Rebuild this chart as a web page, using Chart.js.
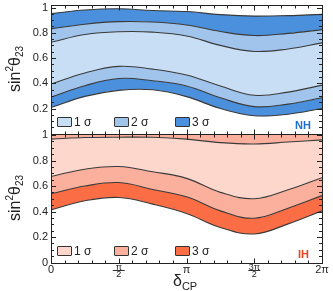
<!DOCTYPE html>
<html><head><meta charset="utf-8">
<script src="https://cdn.jsdelivr.net/npm/chart.js@4/dist/chart.umd.min.js"></script>
<style>
html,body{margin:0;padding:0;background:#fff;}
#wrap{position:relative;width:333px;height:291px;overflow:hidden;font-family:"Liberation Sans",Arial,sans-serif;color:#222;}
canvas{position:absolute;left:0;top:0;}
.ytitle{position:absolute;font-size:16px;white-space:nowrap;transform:translate(-50%,-50%) rotate(-90deg);line-height:1;}
.ytitle sup{font-size:10px;vertical-align:7px;}
.ytitle sub{font-size:10px;vertical-align:-3px;}
.xtitle{position:absolute;left:173px;top:273px;font-size:16px;white-space:nowrap;line-height:1;}
.xtitle sub{font-size:11px;vertical-align:-4px;}
.lg{position:absolute;font-size:12px;white-space:nowrap;line-height:10px;}
.lg .box{display:inline-block;width:13px;height:8px;border:1px solid #333;border-radius:1px;vertical-align:top;margin-right:2px;}
.tag{position:absolute;font-size:11px;font-weight:bold;line-height:1;}
</style></head>
<body>
<div id="wrap">
<canvas id="c" width="333" height="291"></canvas>
<div class="ytitle" style="left:15px;top:69px">sin<sup>2</sup>θ<sub>23</sub></div>
<div class="ytitle" style="left:15px;top:198px">sin<sup>2</sup>θ<sub>23</sub></div>
<div class="xtitle">δ<sub>CP</sub></div>
<div class="lg" style="left:57px;top:117px"><span class="box" style="background:#c8def4"></span>1 σ</div>
<div class="lg" style="left:114px;top:117px"><span class="box" style="background:#a0c4ec"></span>2 σ</div>
<div class="lg" style="left:175px;top:117px"><span class="box" style="background:#4a90dc"></span>3 σ</div>
<div class="tag" style="left:295px;top:120px;color:#1d6fd1">NH</div>
<div class="lg" style="left:57px;top:246px"><span class="box" style="background:#fdd6cc"></span>1 σ</div>
<div class="lg" style="left:114px;top:246px"><span class="box" style="background:#fbb09e"></span>2 σ</div>
<div class="lg" style="left:175px;top:246px"><span class="box" style="background:#fb6d45"></span>3 σ</div>
<div class="tag" style="left:298px;top:249px;color:#e8441c">IH</div>
</div>
<script>
// δCP in units of π
const deltaCP = [0, 0.25, 0.5, 0.75, 1, 1.25, 1.5, 1.75, 2];
// Normal hierarchy band boundaries (sin^2 θ23)
const nh3sUpper = [0.952, 0.980, 0.990, 0.976, 0.968, 0.944, 0.932, 0.936, 0.946];
const nh2sUpper = [0.831, 0.868, 0.888, 0.885, 0.862, 0.810, 0.778, 0.795, 0.825];
const nh1sUpper = [0.725, 0.786, 0.808, 0.805, 0.775, 0.700, 0.652, 0.672, 0.720];
const nh1sLower = [0.394, 0.482, 0.534, 0.512, 0.465, 0.378, 0.305, 0.330, 0.385];
const nh2sLower = [0.291, 0.381, 0.438, 0.420, 0.378, 0.285, 0.215, 0.235, 0.285];
const nh3sLower = [0.208, 0.296, 0.344, 0.348, 0.294, 0.200, 0.143, 0.155, 0.200];
// Inverted hierarchy band boundaries
const ih1sUpper = [0.968, 0.980, 0.983, 0.982, 0.968, 0.940, 0.930, 0.945, 0.962];
const ih1sLower = [0.675, 0.732, 0.753, 0.712, 0.660, 0.550, 0.500, 0.570, 0.665];
const ih2sLower = [0.539, 0.600, 0.627, 0.573, 0.515, 0.405, 0.347, 0.426, 0.525];
const ih3sLower = [0.413, 0.484, 0.510, 0.458, 0.385, 0.275, 0.224, 0.303, 0.405];
const ihUpperBound = 1;
// ticks
const xTickValues = [0, 0.5, 1, 1.5, 2];
const xTickLabels = ['0', ['π', '2'], 'π', ['3π', '2'], '2π'];
const yTickValuesTop = [0.2, 0.4, 0.6, 0.8, 1];
const yTickValuesBot = [0, 0.2, 0.4, 0.6, 0.8, 1];

const NH = {s1:'#c8def4', s2:'#a0c4ec', s3:'#4a90dc'};
const IH = {s1:'#fdd6cc', s2:'#fbb09e', s3:'#fb6d45'};
const LINE = '#3a3a3a';

function pts(arr){ return arr.map((v,i)=>({x:deltaCP[i], y:v})); }
function ds(arr, axis, fill, bg){
  return {data:pts(arr), yAxisID:axis, fill:fill, backgroundColor:bg, borderColor:LINE,
          borderWidth:1.1, pointRadius:0, tension:0.4};
}
const datasets = [
  ds(nh3sUpper,'yTop','+1',NH.s3),
  ds(nh2sUpper,'yTop','+1',NH.s2),
  ds(nh1sUpper,'yTop','+1',NH.s1),
  ds(nh1sLower,'yTop','+1',NH.s2),
  ds(nh2sLower,'yTop','+1',NH.s3),
  ds(nh3sLower,'yTop',false,'transparent'),
  ds(ih1sUpper,'yBot',{value:ihUpperBound},IH.s2),
  ds(ih1sLower,'yBot','-1',IH.s1),
  ds(ih2sLower,'yBot','-1',IH.s2),
  ds(ih3sLower,'yBot','-1',IH.s3),
];

function fmt(v){ return Math.abs(v-1)<1e-9 ? '1' : (Math.abs(v)<1e-9 ? '0' : v.toFixed(1)); }

const frame = {
  id:'frame',
  afterDatasetsDraw(chart){
    const ctx = chart.ctx, xs = chart.scales.x;
    const L = chart.chartArea.left, R = chart.chartArea.right;
    ctx.save();
    ctx.strokeStyle = '#222'; ctx.lineWidth = 1;
    for (const id of ['yTop','yBot']) {
      const s = chart.scales[id];
      const T = Math.round(s.top)+0.5, B = Math.round(s.bottom)+0.5;
      ctx.beginPath();
      for (let i=0;i<=20;i++){
        const v = i*0.05, major = i%4===0, len = major?5:3;
        const py = Math.round(s.getPixelForValue(v))+0.5;
        ctx.moveTo(L, py); ctx.lineTo(L+len, py);
        ctx.moveTo(R, py); ctx.lineTo(R-len, py);
      }
      for (let i=0;i<=20;i++){
        const v = i*0.1, major = i%5===0, len = major?5:3;
        const px = Math.round(xs.getPixelForValue(v))+0.5;
        ctx.moveTo(px, T); ctx.lineTo(px, T+len);
        ctx.moveTo(px, B); ctx.lineTo(px, B-len);
      }
      ctx.stroke();
      ctx.strokeRect(Math.round(L)+0.5, T, Math.round(R)-Math.round(L), B-T);
    }
    ctx.restore();
  },
  afterDraw(chart){
    const ctx = chart.ctx, xs = chart.scales.x;
    ctx.save(); ctx.strokeStyle='#333'; ctx.lineWidth=1;
    for (const v of [0.5, 1.5]) {
      const px = xs.getPixelForValue(v);
      const y = Math.round(xs.top) + 7.5;
      ctx.beginPath(); ctx.moveTo(px-6, y); ctx.lineTo(px+6, y); ctx.stroke();
    }
    ctx.restore();
  }
};

const yTicks = {padding:3, color:'#222', autoSkip:false, font:{family:'Liberation Sans', size:11}, callback:(v)=>fmt(v)};
const yFit = (s)=>{ s.width = 51; s.paddingTop = 0; s.paddingBottom = 0; };

new Chart(document.getElementById('c'), {
  type:'line',
  data:{datasets},
  plugins:[frame],
  options:{
    responsive:false, animation:false, devicePixelRatio:1,
    layout:{padding:{left:0,right:11,top:5,bottom:0}},
    plugins:{legend:{display:false}, tooltip:{enabled:false}, filler:{drawTime:'beforeDatasetsDraw'}},
    scales:{
      x:{type:'linear', min:0, max:2, position:'bottom',
         grid:{display:false, drawTicks:false}, border:{display:false},
         afterBuildTicks:(s)=>{ s.ticks = xTickValues.map(v=>({value:v})); },
         afterFit:(s)=>{ s.height = 28.5; s.paddingLeft = 0; s.paddingRight = 0; },
         ticks:{padding:1, color:'#222', maxRotation:0, autoSkip:false,
           font:(c)=>{ const frac = c.tick && (c.tick.value===0.5 || c.tick.value===1.5);
             return frac ? {family:'Liberation Sans', size:9, lineHeight:0.8} : {family:'Liberation Sans', size:11}; },
           callback:(v)=>{ const i = xTickValues.indexOf(v); return i>=0 ? xTickLabels[i] : ''; }}},
      yTop:{type:'linear', position:'left', stack:'v', stackWeight:1, weight:2, min:0, max:1.02,
         grid:{display:false, drawTicks:false}, border:{display:false},
         afterBuildTicks:(s)=>{ s.ticks = yTickValuesTop.map(v=>({value:v})); },
         afterFit:yFit, ticks:yTicks},
      yBot:{type:'linear', position:'left', stack:'v', stackWeight:1, weight:1, min:0, max:1.01,
         grid:{display:false, drawTicks:false}, border:{display:false},
         afterBuildTicks:(s)=>{ s.ticks = yTickValuesBot.map(v=>({value:v})); },
         afterFit:yFit, ticks:yTicks}
    }
  }
});
</script>
</body></html>
